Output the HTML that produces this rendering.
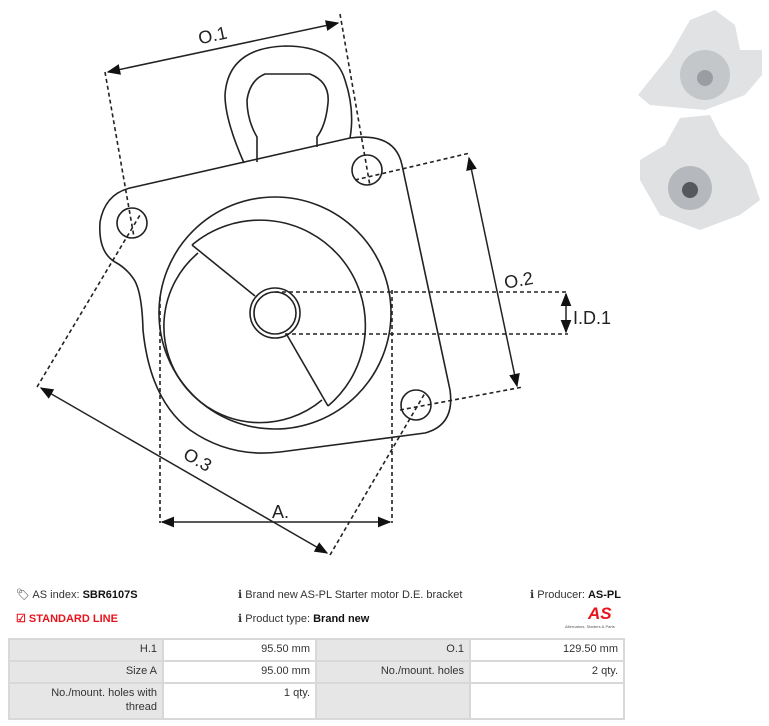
<!DOCTYPE html>
<html><head><meta charset="utf-8"><style>
body{margin:0;width:769px;height:726px;background:#fff;position:relative;overflow:hidden;font-family:"Liberation Sans",sans-serif;}
.t{position:absolute;font-size:11px;color:#333;white-space:nowrap;}
b{color:#111}
table{position:absolute;left:8px;top:638px;width:615px;table-layout:fixed;border-collapse:collapse;font-size:11px;color:#333;}
td{border:2px solid #d8d8d8;text-align:right;padding:2px 5px;vertical-align:top;line-height:14px;box-sizing:border-box;}
td.g{background:#e6e6e6}
</style></head><body>
<svg width="769" height="580" style="position:absolute;left:0;top:0" fill="none" stroke="#222">
<defs><marker id="a" viewBox="0 0 10 10" refX="9" refY="5" markerWidth="9" markerHeight="9" orient="auto-start-reverse"><path d="M0,1 L10,5 L0,9 Z" fill="#111" stroke="none"/></marker></defs>
<g stroke-width="1.6">
<path d="M244,163 Q225,120 225,95 Q228,48 285,46 Q335,46 345,80 Q355,110 350,138"/>
<path d="M257,162 L257,137 Q247,120 247,100 Q250,80 265,74 L310,74 Q330,82 328,103 Q326,125 317,137 L317,147"/>
<path d="M130,188 L350,138 Q395,132 402,165 L450,390 Q455,425 425,433 L280,452 Q230,458 190,430 Q150,400 143,330 Q142,290 133,278 Q126,268 115,262 Q98,252 100,222 Q105,194 130,188 Z"/>
<circle cx="367" cy="170" r="15"/><circle cx="132" cy="223" r="15"/><circle cx="416" cy="405" r="15"/>
<circle cx="275" cy="313" r="116"/>
<path d="M192,245 A97,97 0 1 1 328,406"/>
<path d="M198,253 A93,93 0 0 0 322,400"/>
<line x1="192" y1="245" x2="255" y2="296"/><line x1="287" y1="335" x2="328" y2="406"/>
<circle cx="275" cy="313" r="25"/><circle cx="275" cy="313" r="21"/>
</g>
<g stroke-width="1.6" stroke-dasharray="4,3">
<line x1="105" y1="72" x2="134" y2="237"/><line x1="340" y1="14" x2="370" y2="186"/>
<line x1="355" y1="180" x2="470" y2="153"/><line x1="400" y1="410" x2="523" y2="387"/>
<line x1="275" y1="292" x2="568" y2="292"/><line x1="285" y1="334" x2="568" y2="334"/>
<line x1="37" y1="387" x2="140" y2="215"/><line x1="330" y1="555" x2="425" y2="393"/>
<line x1="160" y1="297" x2="160" y2="523"/><line x1="392" y1="290" x2="392" y2="523"/>
</g>
<g stroke-width="1.5">
<line x1="108" y1="72" x2="338" y2="23" marker-start="url(#a)" marker-end="url(#a)"/>
<line x1="469" y1="158" x2="517" y2="386" marker-start="url(#a)" marker-end="url(#a)"/>
<line x1="566" y1="294" x2="566" y2="332" marker-start="url(#a)" marker-end="url(#a)"/>
<line x1="41" y1="388" x2="327" y2="553" marker-start="url(#a)" marker-end="url(#a)"/>
<line x1="162" y1="522" x2="390" y2="522" marker-start="url(#a)" marker-end="url(#a)"/>
</g>
<g fill="#222" stroke="none" font-family="Liberation Sans,sans-serif" font-size="18">
<text x="198" y="42" transform="rotate(-12 210 35)">O.1</text>
<text x="504" y="287" transform="rotate(-10 515 280)">O.2</text>
<text x="573" y="324">I.D.1</text>
<text x="183" y="466" transform="rotate(30 198 460)">O.3</text>
<text x="272" y="518">A.</text>
</g>
<g stroke="none">
<path d="M650,80 L670,55 L690,20 L715,10 L735,25 L740,50 L762,50 L762,75 L745,95 L705,110 L650,105 L638,95 Z" fill="#e0e2e4"/>
<circle cx="705" cy="75" r="25" fill="#c4c7ca"/><circle cx="705" cy="78" r="8" fill="#9a9da1"/>
<path d="M665,145 L680,118 L710,115 L720,135 L748,165 L760,200 L740,215 L700,230 L660,215 L640,180 L640,160 Z" fill="#dfe1e3"/>
<circle cx="690" cy="188" r="22" fill="#b5b8bc"/><circle cx="690" cy="190" r="8" fill="#55585c"/>
</g>
</svg>
<div class="t" style="left:16px;top:588px">&#x1F3F7;&#xFE0E; AS index: <b>SBR6107S</b></div>
<div class="t" style="left:238px;top:588px">&#x2139; Brand new AS-PL Starter motor D.E. bracket</div>
<div class="t" style="left:530px;top:588px">&#x2139; Producer: <b>AS-PL</b></div>
<div class="t" style="left:16px;top:612px;color:#e8141c;font-weight:bold">&#x2611; STANDARD LINE</div>
<div class="t" style="left:238px;top:612px">&#x2139; Product type: <b>Brand new</b></div>
<div class="t" style="left:588px;top:604px;color:#e8141c;font-weight:bold;font-style:italic;font-size:17px">AS</div>
<div class="t" style="left:565px;top:624px;font-size:4px;color:#555">Alternators, Starters &amp; Parts</div>
<table>
<colgroup><col style="width:154px"><col style="width:153px"><col style="width:154px"><col style="width:154px"></colgroup>
<tr style="height:22px"><td class="g">H.1</td><td>95.50 mm</td><td class="g">O.1</td><td>129.50 mm</td></tr>
<tr style="height:22px"><td class="g">Size A</td><td>95.00 mm</td><td class="g">No./mount. holes</td><td>2 qty.</td></tr>
<tr style="height:36px"><td class="g">No./mount. holes with<br>thread</td><td>1 qty.</td><td class="g"></td><td></td></tr>
</table>
</body></html>
